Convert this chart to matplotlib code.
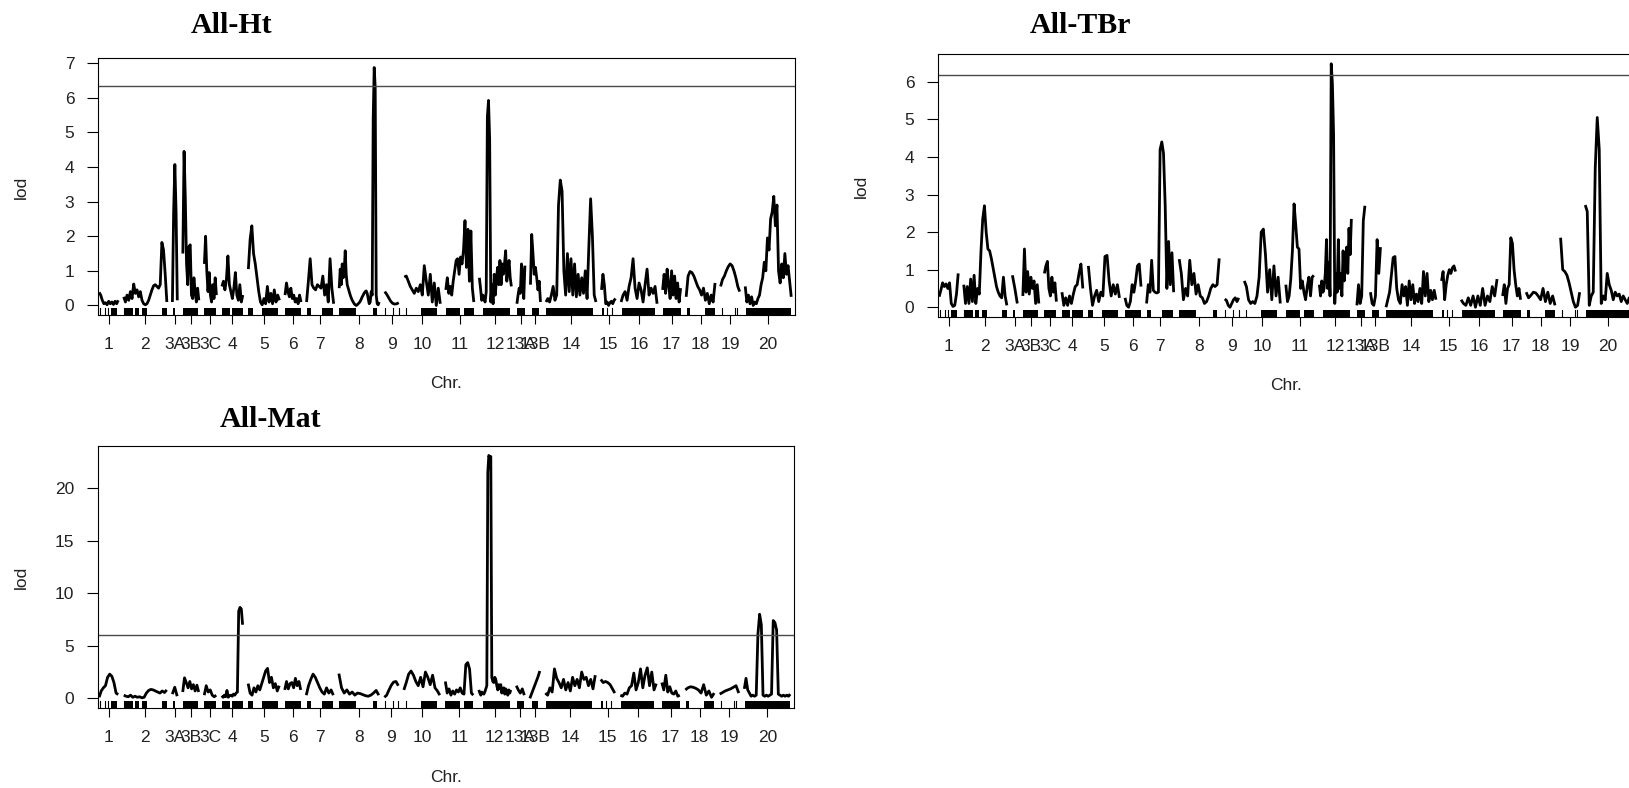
# genome scan lod profiles for three traits r qtl style
# comments are lowercase no punctuation

import numpy as np
import matplotlib
matplotlib.use("Agg")
import matplotlib.pyplot as plt

CHROMS = ["1", "2", "3A", "3B", "3C", "4", "5", "6", "7", "8", "9", "10", "11",
          "12", "13A", "13B", "14", "15", "16", "17", "18", "19", "20"]
CHROM_LEN = [86, 194, 22, 72, 54, 94, 140, 72, 122, 180, 63, 162, 126,
             144, 36, 45, 225, 63, 162, 81, 130, 86, 207]
GAP = 25

# lod scores per chromosome sampled evenly along each linkage group
LOD_HT = [
    [0.38, 0.3, 0.15, 0.05, 0.08, 0.02, 0.12, 0.05, 0.1, 0.03, 0.12, 0.05, 0.15],
    [0.25, 0.1, 0.3, 0.15, 0.4, 0.2, 0.62, 0.35, 0.45, 0.25, 0.4, 0.15, 0.05, 0.02,
     0.05, 0.15, 0.3, 0.45, 0.57, 0.6, 0.55, 0.5, 0.6, 1.82, 1.6, 0.9, 0.1],
    [0.1, 2.7, 4.07, 2.7, 0.15],
    [1.5, 4.45, 3.1, 1.2, 0.6, 1.7, 1.75, 0.3, 0.2, 0.8, 0.4, 0.1, 0.5, 0.15],
    [1.2, 2.0, 1.0, 0.4, 0.95, 0.3, 0.1, 0.6, 0.2, 0.8, 0.3],
    [0.55, 0.7, 0.45, 0.75, 1.43, 0.6, 0.4, 0.2, 0.5, 0.95, 0.3, 0.15, 0.6, 0.1, 0.3],
    [1.05, 1.9, 2.3, 1.5, 1.2, 0.8, 0.4, 0.1, 0.02, 0.2, 0.05, 0.55, 0.1, 0.35,
     0.05, 0.45, 0.1, 0.3, 0.15],
    [0.3, 0.65, 0.4, 0.25, 0.5, 0.2, 0.3, 0.1, 0.2, 0.05, 0.3, 0.1],
    [0.1, 0.7, 1.35, 0.6, 0.5, 0.45, 0.6, 0.55, 0.5, 0.85, 0.3, 0.6, 0.1, 1.35, 0.5, 0.05],
    [0.5, 1.05, 0.6, 1.2, 0.8, 1.0, 1.58, 0.9, 0.6,
     0.5, 0.4, 0.3, 0.22, 0.15, 0.1, 0.05, 0.02, 0.0, 0.02,
     0.05, 0.08, 0.12, 0.18, 0.25, 0.3, 0.36, 0.4, 0.42, 0.35, 0.2, 0.05,
     0.1, 0.4, 0.3, 5.4, 6.87, 6.3, 0.3, 0.05, 0.02, 0.1],
    [0.4, 0.32, 0.22, 0.12, 0.06, 0.04, 0.05, 0.08],
    [0.82, 0.85, 0.7, 0.55, 0.45, 0.35, 0.5, 0.4, 0.6, 0.3, 1.15, 0.7, 0.3, 0.9,
     0.1, 0.65, 0.0, 0.5, 0.05],
    [0.45, 0.8, 0.35, 0.55, 0.3, 0.7, 1.0, 1.3, 1.35, 0.9, 1.4, 1.2, 1.6, 2.45,
     1.1, 2.2, 0.7, 2.15, 0.5, 0.1],
    [0.8, 0.5, 0.15, 0.3, 0.2, 0.1, 0.4, 5.45, 5.92, 4.8, 0.1, 0.6, 0.05, 0.9, 0.3,
     0.8, 1.1, 0.6, 1.3, 0.6, 1.2, 0.9, 1.2, 1.58, 0.7, 1.0, 1.3, 0.8, 0.55],
    [0.05, 0.3, 0.5, 0.35, 1.2, 0.8, 0.2, 1.15],
    [0.6, 2.05, 1.5, 0.9, 1.1, 0.8, 0.45, 0.7, 0.1],
    [0.1, 0.2, 0.1, 0.3, 0.55, 0.15, 0.3, 2.9, 3.62, 3.3, 1.0, 0.3, 1.5, 0.4,
     1.35, 0.3, 1.2, 0.25, 0.9, 0.3, 0.8, 0.35, 1.0, 0.2, 1.7, 3.08, 2.0, 0.3, 0.1],
    [0.45, 0.9, 0.6, 0.05, 0.1, 0.0, 0.08, 0.12, 0.05, 0.15, 0.2],
    [0.1, 0.3, 0.4, 0.15, 0.55, 0.8, 1.35, 0.5, 0.2, 0.65, 0.45, 0.1, 0.6, 1.05,
     0.3, 0.5, 0.35, 0.55, 0.05],
    [0.45, 0.9, 0.35, 1.05, 0.6, 0.2, 1.0, 0.3, 0.85, 0.2, 0.65, 0.1, 0.5],
    [0.25, 0.85, 0.98, 0.95, 0.85, 0.7, 0.55, 0.45, 0.3, 0.5, 0.15, 0.35, 0.05,
     0.3, 0.1, 0.65],
    [0.55, 0.75, 0.85, 1.0, 1.12, 1.2, 1.15, 1.0, 0.8, 0.55, 0.4],
    [0.55, 0.1, 0.3, 0.05, 0.25, 0.0, 0.1, 0.05, 0.2, 0.3, 0.6, 0.8, 1.25, 1.0,
     1.95, 1.6, 2.5, 2.7, 3.15, 2.3, 2.9, 1.0, 0.65, 1.2, 0.8, 1.5, 0.9, 1.15, 0.7, 0.25],
]

LOD_TBR = [
    [0.28, 0.45, 0.65, 0.55, 0.62, 0.5, 0.65, 0.1, 0.02, 0.05, 0.35, 0.9],
    [0.6, 0.1, 0.55, 0.1, 0.75, 0.15, 0.85, 0.1, 0.5, 0.35, 1.5, 2.35, 2.7, 2.0,
     1.55, 1.5, 1.3, 1.05, 0.8, 0.55, 0.4, 0.3, 0.25, 0.8, 0.3, 0.05],
    [0.85, 0.5, 0.1],
    [0.3, 1.55, 0.4, 0.95, 0.35, 0.8, 0.5, 0.7, 0.1, 0.6, 0.1],
    [0.9, 1.1, 1.22, 0.5, 0.3, 0.8, 0.4, 0.65, 0.15],
    [0.4, 0.05, 0.25, 0.05, 0.3, 0.1, 0.35, 0.55, 0.6, 0.9, 1.15, 0.5],
    [1.1, 0.5, 0.05, 0.3, 0.45, 0.15, 0.4, 0.3, 1.35, 1.38, 0.7, 0.3, 0.6, 0.35, 0.6, 0.25],
    [0.25, 0.05, 0.0, 0.15, 0.6, 0.4, 0.7, 1.1, 1.15, 0.55],
    [0.1, 0.6, 0.4, 1.25, 0.45, 0.4, 0.38, 0.4, 4.2, 4.4, 4.1, 2.7, 0.5, 1.75, 0.6, 1.45, 0.4],
    [1.28, 0.9, 0.2, 0.5, 0.3, 1.25, 0.6, 0.9, 0.35, 0.6, 0.3, 0.25, 0.1, 0.15,
     0.3, 0.5, 0.6, 0.55, 0.6, 1.3],
    [0.22, 0.18, 0.05, 0.0, 0.1, 0.2, 0.25, 0.15, 0.25],
    [0.7, 0.55, 0.2, 0.1, 0.15, 0.1, 0.3, 0.8, 2.0, 2.08, 1.4, 0.4, 1.0, 0.2, 1.1, 0.3, 0.8, 0.1],
    [0.6, 0.15, 0.3, 0.75, 1.5, 2.75, 2.2, 1.6, 1.55, 0.5, 0.7, 0.4, 0.2, 0.55, 0.8, 0.3, 0.8, 0.85],
    [0.6, 0.3, 0.7, 0.4, 0.5, 0.9, 1.8, 0.5, 1.2, 0.3, 6.48, 5.95, 4.6, 0.1, 0.9, 0.4,
     1.8, 0.5, 0.9, 0.3, 1.5, 0.7, 1.2, 1.6, 0.9, 2.1, 1.4, 2.35],
    [0.05, 0.6, 0.1, 0.3, 2.3, 2.7],
    [0.4, 0.1, 0.05, 0.3, 1.8, 0.9, 1.6],
    [0.0, 0.2, 0.4, 0.85, 1.32, 1.35, 0.5, 0.2, 0.1, 0.6, 0.3, 0.55, 0.05, 0.7,
     0.2, 0.6, 0.1, 0.35, 0.15, 0.5, 0.1, 0.95, 0.3, 0.9, 0.15, 0.45, 0.2, 0.45, 0.2],
    [0.7, 0.95, 0.2, 0.6, 0.85, 1.0, 0.9, 1.05, 1.1, 0.95],
    [0.2, 0.1, 0.05, 0.25, 0.05, 0.3, 0.0, 0.3, 0.05, 0.5, 0.05, 0.3, 0.15, 0.55, 0.3, 0.75],
    [0.3, 0.6, 0.1, 0.5, 0.6, 1.85, 1.7, 1.0, 0.6, 0.3, 0.5, 0.2],
    [0.4, 0.25, 0.32, 0.4, 0.38, 0.3, 0.2, 0.5, 0.15, 0.4, 0.1, 0.3, 0.05],
    [1.85, 1.0, 0.95, 0.85, 0.65, 0.4, 0.15, 0.0, 0.05, 0.4],
    [2.72, 2.55, 0.05, 0.3, 0.4, 3.7, 5.05, 4.2, 0.1, 0.3, 0.2, 0.9, 0.6, 0.45,
     0.2, 0.4, 0.3, 0.35, 0.15, 0.3, 0.2, 0.1, 0.25, 0.1],
]

LOD_MAT = [
    [0.1, 0.7, 1.0, 1.2, 2.0, 2.3, 2.1, 1.5, 0.5, 0.35],
    [0.3, 0.2, 0.15, 0.3, 0.1, 0.2, 0.1, 0.15, 0.05, 0.1, 0.5, 0.75, 0.85, 0.8,
     0.7, 0.6, 0.5, 0.7, 0.55, 0.8],
    [0.4, 1.05, 0.2],
    [0.6, 1.95, 1.5, 1.0, 1.6, 0.9, 1.3, 0.7, 1.25, 0.6],
    [0.3, 1.2, 0.6, 0.8, 0.3, 0.15, 0.3],
    [0.25, 0.1, 0.3, 0.15, 0.75, 0.1, 0.25, 0.3, 0.2, 0.4, 0.3, 0.5, 0.6, 8.3,
     8.65, 8.5, 7.0],
    [1.4, 0.5, 0.3, 1.0, 0.6, 1.2, 0.8, 1.4, 2.0, 2.6, 2.85, 1.5, 2.0, 1.0, 1.4, 0.7, 1.2],
    [0.8, 1.6, 0.9, 1.4, 1.5, 1.0, 1.9, 1.2, 1.6, 0.8],
    [0.3, 1.2, 1.8, 2.3, 2.0, 1.5, 1.0, 0.6, 0.4, 1.0, 0.5, 0.8, 0.3],
    [2.35, 1.0, 0.5, 0.8, 0.4, 0.6, 0.3, 0.5, 0.45, 0.35, 0.25, 0.2, 0.3, 0.5, 0.75, 0.3],
    [0.1, 0.3, 0.8, 1.25, 1.55, 1.6, 1.2],
    [0.8, 1.5, 2.3, 2.6, 2.2, 1.6, 1.2, 2.0, 1.1, 2.5, 2.0, 1.3, 2.2, 1.0, 0.7, 0.3],
    [1.6, 0.5, 0.9, 0.3, 0.7, 0.4, 0.8, 0.6, 1.0, 0.5, 0.4, 3.2, 3.4, 2.8, 0.5, 0.3],
    [0.8, 0.5, 0.3, 0.6, 0.5, 0.4, 0.6, 0.9, 1.2, 21.5, 23.1, 22.9, 23.0, 2.0,
     1.6, 1.5, 2.0, 1.8, 1.2, 0.8, 1.3, 0.9, 1.3, 0.5, 0.8, 1.0, 0.4, 0.9, 0.6,
     0.3, 0.8, 0.5, 0.8],
    [1.2, 0.8, 0.5, 0.9, 0.3],
    [0.0, 0.5, 1.0, 1.5, 2.0, 2.6],
    [0.5, 0.3, 1.0, 0.6, 2.8, 1.9, 1.5, 1.0, 1.8, 0.8, 1.5, 0.7, 2.0, 1.2, 1.8,
     1.0, 2.5, 1.8, 2.0, 1.2, 1.8, 0.9, 2.2],
    [1.8, 1.5, 1.6, 1.5, 1.3, 0.9, 0.5],
    [0.3, 0.2, 0.5, 0.4, 1.0, 1.2, 2.4, 0.8, 1.5, 2.8, 1.0, 2.2, 2.9, 1.2, 2.5, 0.8, 1.4],
    [1.5, 0.8, 2.2, 0.6, 1.1, 0.5, 0.4, 0.7, 0.2, 0.3],
    [0.8, 1.0, 1.1, 1.05, 0.95, 0.8, 0.5, 1.3, 0.3, 0.7, 0.1, 0.5],
    [0.4, 0.55, 0.7, 0.8, 0.9, 1.05, 1.2, 0.5],
    [0.9, 1.9, 0.8, 0.5, 0.2, 0.3, 0.2, 0.3, 6.1, 8.0, 7.0, 0.3, 0.2, 0.3, 0.2,
     0.3, 0.4, 7.4, 7.2, 6.5, 0.4, 0.3, 0.2, 0.3, 0.2, 0.3, 0.2, 0.4],
]

# permutation thresholds
THRESH = {"All-Ht": 6.34, "All-TBr": 6.19, "All-Mat": 6.07}

# marker map rug dense blocks and single markers in cM within chromosome
RUG_BLOCKS = [("1", 54, 81), ("2", 2, 43), ("2", 52, 70), ("2", 83, 106), ("2", 173, 194),
              ("3A", 4, 13), ("3B", 2, 69), ("3C", 0, 54), ("4", 1, 38), ("4", 46, 94),
              ("5", 0, 21), ("5", 62, 133), ("6", 0, 72), ("7", 3, 21), ("7", 70, 120),
              ("8", 0, 77), ("8", 153, 171), ("10", 76, 148), ("11", 0, 65), ("11", 83, 126),
              ("12", 17, 139), ("13A", 1, 36), ("13B", 8, 39), ("14", 1, 212), ("15", 0, 12),
              ("16", 5, 153), ("17", 0, 81), ("18", 5, 18), ("18", 85, 130), ("20", 4, 207)]
RUG_TICKS = [("1", 4), ("1", 27), ("1", 40), ("2", 0), ("9", 2), ("9", 38), ("9", 63),
             ("10", 9), ("15", 25), ("15", 48), ("19", 7), ("19", 65), ("19", 74)]

W, H = 1629, 788
SANS = ["Liberation Sans", "DejaVu Sans"]
SERIF = ["Liberation Serif", "DejaVu Serif"]
FS = 12.5


def chrom_starts():
    starts, pos = [], 0.0
    for length in CHROM_LEN:
        starts.append(pos)
        pos += length + GAP
    return starts


def draw_scan(ax, lods, thresh, ylim, yticks):
    starts = chrom_starts()
    offs = dict(zip(CHROMS, starts))

    for s, length, vals in zip(starts, CHROM_LEN, lods):
        x = np.linspace(s, s + length, len(vals))
        ax.plot(x, vals, color="black", lw=2.0, solid_capstyle="butt")

    # marker rug along the bottom
    for c, a, b in RUG_BLOCKS:
        ax.axvspan(offs[c] + a, offs[c] + b, ymin=0, ymax=0.026,
                   color="black", lw=0)
    for c, p in RUG_TICKS:
        ax.axvline(offs[c] + p, ymin=0, ymax=0.026, color="black", lw=0.8)

    ax.axhline(thresh, color="#4a4a4a", lw=1.0)

    mids = [s + L / 2 for s, L in zip(starts, CHROM_LEN)]
    ax.set_xticks(mids)
    ax.set_xticklabels(CHROMS, family=SANS, fontsize=FS, color="#222222")
    ax.set_yticks(yticks)
    ax.set_yticklabels([str(t) for t in yticks], family=SANS, fontsize=FS, color="#222222")
    ax.set_xlim(-5, 3133)
    ax.set_ylim(*ylim)
    ax.tick_params(axis="x", length=6.5, width=0.8, pad=9)
    ax.tick_params(axis="y", length=8, width=0.8, pad=9)
    for sp in ax.spines.values():
        sp.set_linewidth(0.8)
        sp.set_color("black")


def main():
    fig = plt.figure(figsize=(W / 100, H / 100), dpi=100)

    def rect(x0, y0, x1, y1):
        return [x0 / W, 1 - y1 / H, (x1 - x0) / W, (y1 - y0) / H]

    ax_ht = fig.add_axes(rect(98, 58, 795, 315))
    ax_tbr = fig.add_axes(rect(938, 54, 1635, 317))
    ax_mat = fig.add_axes(rect(98, 446, 794, 708))

    draw_scan(ax_ht, LOD_HT, THRESH["All-Ht"], (-0.275, 7.145), range(0, 8))
    draw_scan(ax_tbr, LOD_TBR, THRESH["All-TBr"], (-0.26, 6.74), range(0, 7))
    draw_scan(ax_mat, LOD_MAT, THRESH["All-Mat"], (-0.92, 24.0), [0, 5, 10, 15, 20])

    # titles in serif bold
    for name, cx, base in [("All-Ht", 232, 33), ("All-TBr", 1080, 33), ("All-Mat", 271, 427)]:
        fig.text(cx / W, 1 - base / H, name, family=SERIF, fontweight="bold",
                 fontsize=21.5, ha="center", va="baseline")

    # axis labels
    for cx, cy in [(21, 187), (861, 186), (21, 577)]:
        fig.text(cx / W, 1 - cy / H, "lod", family=SANS, fontsize=FS, rotation=90,
                 ha="center", va="center", color="#222222")
    for cx, cy in [(446, 384), (1286, 386), (446, 777)]:
        fig.text(cx / W, 1 - cy / H, "Chr.", family=SANS, fontsize=FS,
                 ha="center", va="center", color="#222222")

    fig.savefig("out.png", dpi=100)
    plt.close(fig)


if __name__ == "__main__":
    main()
